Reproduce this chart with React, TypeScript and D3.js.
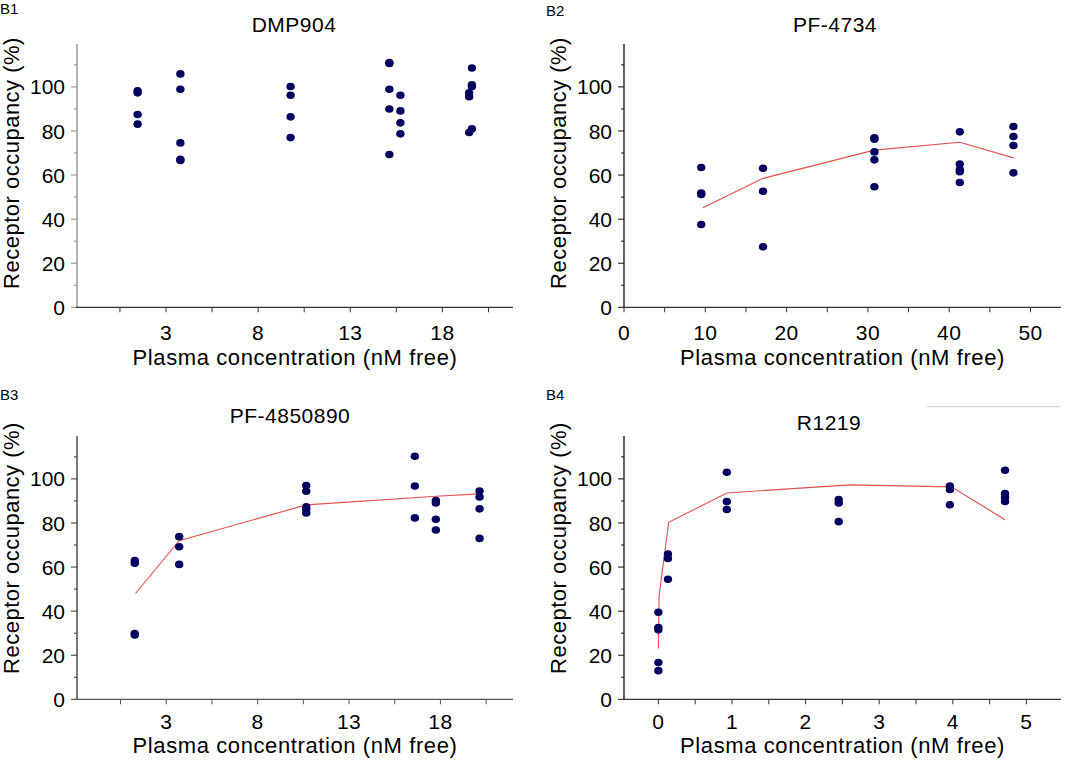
import * as d3 from 'd3'

// dose groups (nM free) and measured occupancy (%) per group
const dmpDose = [1.46, 3.78, 9.76, 15.12, 15.72, 19.45, 19.6]
const dmpOcc = [
  [98.2, 97.3, 87.5, 83.1],
  [105.9, 98.9, 74.6, 67.2, 66.6],
  [100.2, 96.2, 86.4, 77.0],
  [111.1, 110.6, 98.9, 90.0, 69.3],
  [96.2, 89.1, 83.7, 78.7],
  [97.3, 95.5, 79.3],
  [108.6, 101.0, 100.2, 81.0],
]

const pf4734Dose = [9.5, 17.1, 30.8, 41.3, 47.9]
const pf4734Occ = [
  [63.4, 51.8, 51.2, 37.6],
  [63.1, 52.6, 27.5],
  [76.9, 76.3, 70.5, 66.9, 54.7],
  [79.6, 65.0, 62.5, 61.5, 56.6],
  [82.0, 77.5, 73.4, 61.0],
]
const pf4734FitX = [9.7, 17.1, 30.8, 41.3, 47.9]
const pf4734FitY = [45.2, 58.5, 71.3, 74.9, 67.8]

const pf4850890Dose = [1.28, 3.71, 10.66, 16.6, 17.75, 20.14]
const pf4850890Occ = [
  [62.9, 61.7, 29.8, 29.2],
  [73.8, 69.2, 61.2],
  [97.0, 94.4, 87.3, 86.1, 84.5],
  [110.3, 96.8, 82.3],
  [90.2, 89.1, 81.7, 76.8],
  [94.5, 91.8, 86.4, 73.0],
]
const pf4850890FitX = [1.32, 3.71, 10.66, 17.75, 20.14]
const pf4850890FitY = [48.0, 72.0, 88.2, 92.1, 93.2]

const r1219Dose = [0.0, 0.13, 0.93, 2.45, 3.96, 4.71]
const r1219Occ = [
  [39.5, 32.6, 31.5, 16.7, 13.0],
  [65.9, 63.9, 54.5],
  [103.0, 89.7, 86.1],
  [90.6, 89.1, 80.6],
  [96.8, 95.2, 88.3],
  [103.9, 93.3, 91.7, 89.8],
]
const r1219FitX = [0.0, 0.01, 0.14, 0.93, 2.6, 3.98, 4.71]
const r1219FitY = [23, 47, 80.3, 93.6, 97.3, 96.4, 81.5]

// axis ticks
const shiftedTicks = [0.5, 3, 5.5, 8, 10.5, 13, 15.5, 18, 20.5]
const shiftedLabels = [3, 8, 13, 18]
const fiftyTicks = [0, 5, 10, 15, 20, 25, 30, 35, 40, 45, 50]
const fiftyLabels = [0, 10, 20, 30, 40, 50]
const fiveTicks = [0, 0.5, 1, 1.5, 2, 2.5, 3, 3.5, 4, 4.5, 5]
const fiveLabels = [0, 1, 2, 3, 4, 5]
const yTicks = [0, 10, 20, 30, 40, 50, 60, 70, 80, 90, 100, 110]
const yLabels = [0, 20, 40, 60, 80, 100]

const FONT = '"Liberation Sans", Arial, sans-serif'
const DOT = '#00005e'
const FIT = '#e2504f'

type PanelSpec = {
  tag: string
  title: string
  dose: number[]
  occ: number[][]
  fitX?: number[]
  fitY?: number[]
  xTicks: number[]
  xLabels: number[]
  left: number
  right: number
  bottom: number
  xMin: number
  xMax: number
  yAxisColor: string
  xAxisColor: string
  tagX: number
  tagY: number
  titleX: number
  titleY: number
  tickDy: number
  xTitleY: number
  yTitleX: number
  yTitleY: number
}

const panels: PanelSpec[] = [
  {
    tag: 'B1', title: 'DMP904', dose: dmpDose, occ: dmpOcc,
    xTicks: shiftedTicks, xLabels: shiftedLabels,
    left: 77, right: 513, bottom: 307.3, xMin: -1.83, xMax: 21.83,
    yAxisColor: '#8c8c8c', xAxisColor: '#333',
    tagX: 0, tagY: 14, titleX: 294, titleY: 32, tickDy: 33, xTitleY: 365, yTitleX: 18.5, yTitleY: 163,
  },
  {
    tag: 'B2', title: 'PF-4734', dose: pf4734Dose, occ: pf4734Occ, fitX: pf4734FitX, fitY: pf4734FitY,
    xTicks: fiftyTicks, xLabels: fiftyLabels,
    left: 624, right: 1061, bottom: 307.3, xMin: 0, xMax: 53.75,
    yAxisColor: '#111', xAxisColor: '#333',
    tagX: 546, tagY: 16, titleX: 835, titleY: 32, tickDy: 33, xTitleY: 365, yTitleX: 565.5, yTitleY: 163,
  },
  {
    tag: 'B3', title: 'PF-4850890', dose: pf4850890Dose, occ: pf4850890Occ, fitX: pf4850890FitX, fitY: pf4850890FitY,
    xTicks: shiftedTicks, xLabels: shiftedLabels,
    left: 77, right: 513, bottom: 699.3, xMin: -1.88, xMax: 21.97,
    yAxisColor: '#333', xAxisColor: '#555',
    tagX: 0, tagY: 400, titleX: 290, titleY: 423, tickDy: 29.5, xTitleY: 753, yTitleX: 18.5, yTitleY: 548,
  },
  {
    tag: 'B4', title: 'R1219', dose: r1219Dose, occ: r1219Occ, fitX: r1219FitX, fitY: r1219FitY,
    xTicks: fiveTicks, xLabels: fiveLabels,
    left: 624, right: 1061, bottom: 699.3, xMin: -0.467, xMax: 5.47,
    yAxisColor: '#111', xAxisColor: '#333',
    tagX: 546, tagY: 400, titleX: 829, titleY: 430, tickDy: 29.5, xTitleY: 753, yTitleX: 565.5, yTitleY: 548,
  },
]

function Panel({ p }: { p: PanelSpec }) {
  const x = d3.scaleLinear().domain([p.xMin, p.xMax]).range([p.left, p.right])
  const y = d3.scaleLinear().domain([0, 100]).range([p.bottom, p.bottom - 220.4])
  const yTop = y(119.5)
  const pts = p.dose.flatMap((d, i) => p.occ[i].map((v) => [d, v] as [number, number]))
  const line = d3.line<number>().x((_, i) => x(p.fitX![i])).y((v) => y(v))

  return (
    <g>
      <text x={p.tagX} y={p.tagY} fontSize={15} fontFamily={FONT}>{p.tag}</text>
      <text x={p.titleX} y={p.titleY} fontSize={21} textAnchor="middle" letterSpacing={0.5} fontFamily={FONT}>{p.title}</text>

      {/* y axis */}
      <line x1={p.left} x2={p.left} y1={yTop} y2={p.bottom} stroke={p.yAxisColor} strokeWidth={1.3} />
      {yTicks.map((t) => (
        <line key={t} x1={p.left - (t % 20 === 0 ? 6 : 3)} x2={p.left} y1={y(t)} y2={y(t)} stroke={p.yAxisColor} />
      ))}
      {yLabels.map((t) => (
        <text key={t} x={p.left - 12} y={y(t)} dy="0.36em" textAnchor="end" fontSize={21} fontFamily={FONT}>{t}</text>
      ))}
      <text transform={`translate(${p.yTitleX},${p.yTitleY}) rotate(-90)`} textAnchor="middle" fontSize={22} letterSpacing={0.5} fontFamily={FONT}>
        Receptor occupancy (%)
      </text>

      {/* x axis */}
      <line x1={p.left - 1} x2={p.right} y1={p.bottom} y2={p.bottom} stroke={p.xAxisColor} strokeWidth={1.3} />
      {p.xTicks.map((t) => (
        <line key={t} x1={x(t)} x2={x(t)} y1={p.bottom} y2={p.bottom + 5} stroke={p.xAxisColor} />
      ))}
      {p.xLabels.map((t) => (
        <text key={t} x={x(t)} y={p.bottom + p.tickDy} textAnchor="middle" fontSize={21} letterSpacing={0.4} fontFamily={FONT}>{t}</text>
      ))}
      <text x={(p.left + p.right) / 2} y={p.xTitleY} textAnchor="middle" fontSize={22} letterSpacing={0.6} fontFamily={FONT}>
        Plasma concentration (nM free)
      </text>

      {p.fitY && <path d={line(p.fitY) ?? ''} fill="none" stroke={FIT} strokeWidth={1.1} />}

      {pts.map(([d, v], i) => (
        <ellipse key={i} cx={x(d)} cy={y(v)} rx={4.2} ry={3.8} fill={DOT} />
      ))}
    </g>
  )
}

export default function App() {
  return (
    <svg width={1065} height={766} style={{ position: 'absolute', left: 0, top: 0, background: '#fff' }}>
      <rect width={1065} height={766} fill="#fff" />
      {panels.map((p) => <Panel key={p.tag} p={p} />)}
      <line x1={927} x2={1060} y1={406.7} y2={406.7} stroke="#d0d0d0" />
    </svg>
  )
}
